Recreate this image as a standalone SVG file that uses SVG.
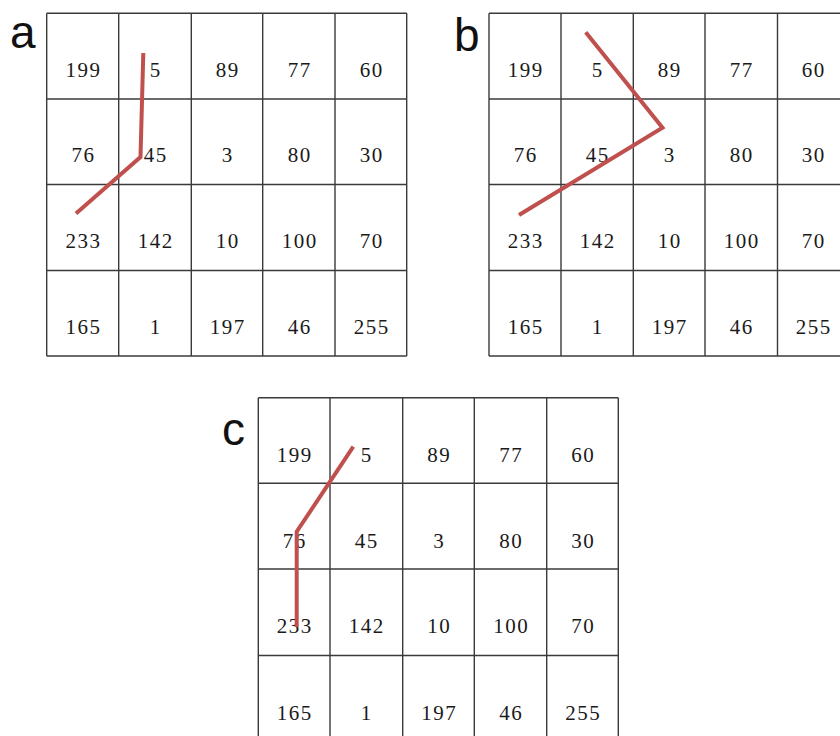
<svg xmlns="http://www.w3.org/2000/svg" width="840" height="736" viewBox="0 0 840 736">
<style>
.bg{fill:#ffffff}
.grid line{stroke:#3a3a3a;stroke-width:1.4}
.num{font-family:"Liberation Serif","Times New Roman",serif;font-size:21px;fill:#1a1a1a;text-anchor:middle;letter-spacing:1.5px}
.lbl{font-family:"Liberation Sans","Open Sans",Arial,sans-serif;font-size:46px;fill:#111}
.path{fill:none;stroke:#c0504d;stroke-width:4;stroke-linejoin:miter;stroke-linecap:butt}
</style>
<rect class="bg" x="0" y="0" width="840" height="736"/>

<g id="grid-a">
  <text class="lbl" x="10" y="48">a</text>
  <g class="grid">
    <line x1="46.7" y1="13.3" x2="406.7" y2="13.3"/>
    <line x1="46.7" y1="99" x2="406.7" y2="99"/>
    <line x1="46.7" y1="184.5" x2="406.7" y2="184.5"/>
    <line x1="46.7" y1="270.5" x2="406.7" y2="270.5"/>
    <line x1="46.7" y1="356" x2="406.7" y2="356"/>
    <line x1="46.7" y1="13.3" x2="46.7" y2="356"/>
    <line x1="118.7" y1="13.3" x2="118.7" y2="356"/>
    <line x1="191.3" y1="13.3" x2="191.3" y2="356"/>
    <line x1="262.7" y1="13.3" x2="262.7" y2="356"/>
    <line x1="335" y1="13.3" x2="335" y2="356"/>
    <line x1="406.7" y1="13.3" x2="406.7" y2="356"/>
  </g>
  <g>
    <text class="num" x="83.5" y="76.5">199</text><text class="num" x="155.8" y="76.5">5</text><text class="num" x="227.8" y="76.5">89</text><text class="num" x="299.8" y="76.5">77</text><text class="num" x="371.8" y="76.5">60</text>
    <text class="num" x="83.5" y="162">76</text><text class="num" x="155.8" y="162">45</text><text class="num" x="227.8" y="162">3</text><text class="num" x="299.8" y="162">80</text><text class="num" x="371.8" y="162">30</text>
    <text class="num" x="83.5" y="248">233</text><text class="num" x="155.8" y="248">142</text><text class="num" x="227.8" y="248">10</text><text class="num" x="299.8" y="248">100</text><text class="num" x="371.8" y="248">70</text>
    <text class="num" x="83.5" y="333.5">165</text><text class="num" x="155.8" y="333.5">1</text><text class="num" x="227.8" y="333.5">197</text><text class="num" x="299.8" y="333.5">46</text><text class="num" x="371.8" y="333.5">255</text>
  </g>
</g>

<g id="grid-b">
  <text class="lbl" x="454" y="51">b</text>
  <g class="grid">
    <line x1="489" y1="13.3" x2="840" y2="13.3"/>
    <line x1="489" y1="99" x2="840" y2="99"/>
    <line x1="489" y1="184.5" x2="840" y2="184.5"/>
    <line x1="489" y1="270.5" x2="840" y2="270.5"/>
    <line x1="489" y1="356" x2="840" y2="356"/>
    <line x1="489" y1="13.3" x2="489" y2="356"/>
    <line x1="561" y1="13.3" x2="561" y2="356"/>
    <line x1="633.3" y1="13.3" x2="633.3" y2="356"/>
    <line x1="705" y1="13.3" x2="705" y2="356"/>
    <line x1="777.5" y1="13.3" x2="777.5" y2="356"/>
  </g>
  <g>
    <text class="num" x="525.8" y="76.5">199</text><text class="num" x="597.8" y="76.5">5</text><text class="num" x="669.8" y="76.5">89</text><text class="num" x="741.8" y="76.5">77</text><text class="num" x="813.8" y="76.5">60</text>
    <text class="num" x="525.8" y="162">76</text><text class="num" x="597.8" y="162">45</text><text class="num" x="669.8" y="162">3</text><text class="num" x="741.8" y="162">80</text><text class="num" x="813.8" y="162">30</text>
    <text class="num" x="525.8" y="248">233</text><text class="num" x="597.8" y="248">142</text><text class="num" x="669.8" y="248">10</text><text class="num" x="741.8" y="248">100</text><text class="num" x="813.8" y="248">70</text>
    <text class="num" x="525.8" y="333.5">165</text><text class="num" x="597.8" y="333.5">1</text><text class="num" x="669.8" y="333.5">197</text><text class="num" x="741.8" y="333.5">46</text><text class="num" x="813.8" y="333.5">255</text>
  </g>
</g>

<g id="grid-c">
  <text class="lbl" x="222" y="445">c</text>
  <g class="grid">
    <line x1="258.3" y1="397.7" x2="618.3" y2="397.7"/>
    <line x1="258.3" y1="483.3" x2="618.3" y2="483.3"/>
    <line x1="258.3" y1="569" x2="618.3" y2="569"/>
    <line x1="258.3" y1="655.5" x2="618.3" y2="655.5"/>
    <line x1="258.3" y1="397.7" x2="258.3" y2="736"/>
    <line x1="330" y1="397.7" x2="330" y2="736"/>
    <line x1="402.7" y1="397.7" x2="402.7" y2="736"/>
    <line x1="474.3" y1="397.7" x2="474.3" y2="736"/>
    <line x1="546.7" y1="397.7" x2="546.7" y2="736"/>
    <line x1="618.3" y1="397.7" x2="618.3" y2="736"/>
  </g>
  <g>
    <text class="num" x="294.8" y="461.5">199</text><text class="num" x="366.8" y="461.5">5</text><text class="num" x="439.3" y="461.5">89</text><text class="num" x="511.3" y="461.5">77</text><text class="num" x="583.3" y="461.5">60</text>
    <text class="num" x="294.8" y="547.5">76</text><text class="num" x="366.8" y="547.5">45</text><text class="num" x="439.3" y="547.5">3</text><text class="num" x="511.3" y="547.5">80</text><text class="num" x="583.3" y="547.5">30</text>
    <text class="num" x="294.8" y="633">233</text><text class="num" x="366.8" y="633">142</text><text class="num" x="439.3" y="633">10</text><text class="num" x="511.3" y="633">100</text><text class="num" x="583.3" y="633">70</text>
    <text class="num" x="294.8" y="719.5">165</text><text class="num" x="366.8" y="719.5">1</text><text class="num" x="439.3" y="719.5">197</text><text class="num" x="511.3" y="719.5">46</text><text class="num" x="583.3" y="719.5">255</text>
  </g>
</g>

<g id="connectors">
  <polyline class="path" points="143.3,53 140.5,157 76,213.5"/>
  <polyline class="path" points="585.7,32.3 662.5,127.7 519,215"/>
  <polyline class="path" points="353.3,446.7 296.7,531.7 296.7,627"/>
</g>
</svg>
